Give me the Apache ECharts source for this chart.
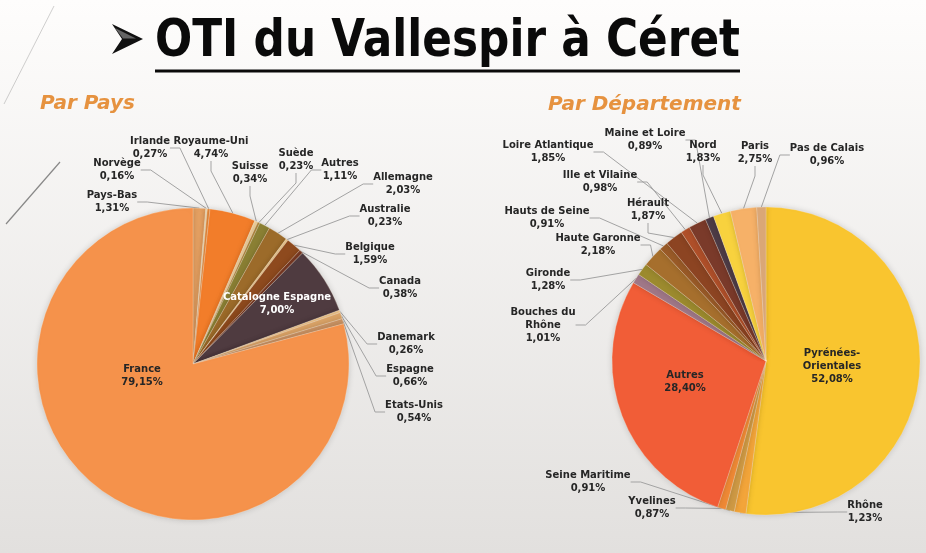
<!DOCTYPE html>
<html>
<head>
<meta charset="utf-8">
<script src="https://cdn.jsdelivr.net/npm/echarts@6/dist/echarts.min.js"></script>
<style>
  html, body { margin: 0; padding: 0; background: #fff; }
  #chart { width: 926px; height: 553px; }
</style>
</head>
<body>
<div id="chart"></div>
<script>
// Par Pays (clockwise from 12 o'clock)
const paysNames = ['Pays-Bas', 'Norvège', 'Irlande', 'Royaume-Uni', 'Suisse', 'Suède', 'Autres', 'Allemagne',
  'Australie', 'Belgique', 'Canada', 'Catalogne Espagne', 'Danemark', 'Espagne', 'Etats-Unis', 'France']
const paysValues = [1.31, 0.16, 0.27, 4.74, 0.34, 0.23, 1.11, 2.03, 0.23, 1.59, 0.38, 7.00, 0.26, 0.66, 0.54, 79.15]

// Par Département (clockwise from 12 o'clock)
const deptNames = ['Pyrénées-Orientales', 'Rhône', 'Seine Maritime', 'Yvelines', 'Autres', 'Bouches du Rhône',
  'Gironde', 'Haute Garonne', 'Hauts de Seine', 'Hérault', 'Ille et Vilaine', 'Loire Atlantique',
  'Maine et Loire', 'Nord', 'Paris', 'Pas de Calais']
const deptValues = [52.08, 1.23, 0.91, 0.87, 28.40, 1.01, 1.28, 2.18, 0.91, 1.87, 0.98, 1.85, 0.89, 1.83, 2.75, 0.96]

// slice colours
const paysColors = ['#e4a062', '#f6dcae', '#ea8c3c', '#f27d2a', '#f3d39e', '#b58a3e', '#8b8034', '#9c6b2a',
  '#f0c98e', '#8e4a1e', '#7a3a24', '#4f3b40', '#f2c68a', '#dba468', '#c99263', '#f5924b']
const deptColors = ['#f9c52f', '#f3a53a', '#cf9a45', '#f08a36', '#f15d37', '#a07888', '#9c8a2e', '#a66f2d',
  '#9a5b28', '#8c4422', '#b0502a', '#7a3a2a', '#4e3c46', '#f8d23e', '#f6b168', '#dba878']

// label centres (px), as placed on the slide
const paysLabelPos = {
  'France': [142, 376], 'Catalogne Espagne': [277, 304], 'Pays-Bas': [112, 202], 'Norvège': [117, 170],
  'Irlande': [150, 148], 'Royaume-Uni': [211, 148], 'Suisse': [250, 173], 'Suède': [296, 160],
  'Autres': [340, 170], 'Allemagne': [403, 184], 'Australie': [385, 216], 'Belgique': [370, 254],
  'Canada': [400, 288], 'Danemark': [406, 344], 'Espagne': [410, 376], 'Etats-Unis': [414, 412],
}
const deptLabelPos = {
  'Pyrénées-Orientales': [832, 366], 'Autres': [685, 382], 'Rhône': [865, 512], 'Seine Maritime': [588, 482],
  'Yvelines': [652, 508], 'Bouches du Rhône': [543, 325], 'Gironde': [548, 280], 'Haute Garonne': [598, 245],
  'Hauts de Seine': [547, 218], 'Hérault': [648, 210], 'Ille et Vilaine': [600, 182],
  'Loire Atlantique': [548, 152], 'Maine et Loire': [645, 140], 'Nord': [703, 152], 'Paris': [755, 153],
  'Pas de Calais': [827, 155],
}
const insideLabels = ['France', 'Catalogne Espagne', 'Pyrénées-Orientales', 'Autres']
const whiteLabels = ['Catalogne Espagne']

const TITLE = 'OTI du Vallespir à Céret'
const LABEL_FONT = '"DejaVu Sans", sans-serif'

function pct(v){
  return v.toFixed(2).replace('.', ',') + '%'
}

function wrapName(name){
  return name.replace('Pyrénées-', 'Pyrénées-\n').replace('Bouches du ', 'Bouches du\n')
}

function buildData(names, values, colors, isDept){
  return names.map((name, i) => {
    const inside = insideLabels.includes(name) && !(name === 'Autres' && !isDept)
    return {
      name,
      value: values[i],
      itemStyle: { color: colors[i] },
      label: { color: whiteLabels.includes(name) ? '#ffffff' : '#262626' },
      labelLine: { show: !inside },
    }
  })
}

function layoutFrom(names, posMap){
  return params => {
    const p = posMap[names[params.dataIndex]]
    return { x: p[0], y: p[1], align: 'center', verticalAlign: 'middle' }
  }
}

function pieSeries(names, values, colors, posMap, center, radius, isDept){
  return {
    type: 'pie',
    center,
    radius,
    startAngle: 90,
    clockwise: true,
    avoidLabelOverlap: false,
    itemStyle: {
      borderColor: 'rgba(255,240,220,0.5)',
      borderWidth: 0.5,
      shadowBlur: 6,
      shadowColor: 'rgba(0,0,0,0.16)',
    },
    label: {
      show: true,
      position: 'outside',
      formatter: p => wrapName(p.name) + '\n' + pct(p.value),
      fontFamily: LABEL_FONT,
      fontWeight: 'bold',
      fontSize: 10,
      lineHeight: 13,
      color: '#262626',
    },
    labelLine: {
      show: true,
      length: 10,
      length2: 10,
      lineStyle: { color: '#a3a3a3', width: 1 },
    },
    labelLayout: layoutFrom(names, posMap),
    emphasis: { disabled: true },
    data: buildData(names, values, colors, isDept),
  }
}

// squeeze the title to the slide's condensed width
const measure = document.createElement('canvas').getContext('2d')
measure.font = 'bold 51px "DejaVu Sans"'
const titleScale = 585 / measure.measureText(TITLE).width

const chart = echarts.init(document.getElementById('chart'), null, { renderer: 'canvas' })
chart.setOption({
  animation: false,
  backgroundColor: new echarts.graphic.LinearGradient(0, 0, 0, 1, [
    { offset: 0, color: '#fefdfc' },
    { offset: 1, color: '#e2e0de' },
  ]),
  graphic: [
    { type: 'line', shape: { x1: 54, y1: 6, x2: 4, y2: 104 }, style: { stroke: 'rgba(120,120,120,0.35)', lineWidth: 1 } },
    { type: 'line', shape: { x1: 60, y1: 162, x2: 6, y2: 224 }, style: { stroke: 'rgba(90,90,90,0.7)', lineWidth: 1.2 } },
    {
      type: 'polygon',
      shape: { points: [[112, 24], [143, 39], [112, 54], [122, 39]] },
      style: { fill: '#111111' },
    },
    {
      type: 'polygon',
      shape: { points: [[115, 28], [136, 38.5], [123, 38.5]] },
      style: { fill: 'rgba(255,255,255,0.35)' },
    },
    {
      type: 'text', x: 155, y: 42.7, scaleX: titleScale,
      style: { text: TITLE, font: 'bold 51px "DejaVu Sans"', fill: '#0a0a0a', align: 'left', verticalAlign: 'middle' },
    },
    { type: 'rect', shape: { x: 155, y: 69.5, width: 585, height: 3 }, style: { fill: '#0a0a0a' } },
    {
      type: 'text', x: 40, y: 104,
      style: { text: 'Par Pays', font: 'italic bold 20px "DejaVu Sans"', fill: '#e6923f', align: 'left', verticalAlign: 'middle' },
    },
    {
      type: 'text', x: 548, y: 105,
      style: { text: 'Par Département', font: 'italic bold 20px "DejaVu Sans"', fill: '#e6923f', align: 'left', verticalAlign: 'middle' },
    },
  ],
  series: [
    pieSeries(paysNames, paysValues, paysColors, paysLabelPos, [193, 364], 156, false),
    pieSeries(deptNames, deptValues, deptColors, deptLabelPos, [766, 361], 154, true),
  ],
})
</script>
</body>
</html>
